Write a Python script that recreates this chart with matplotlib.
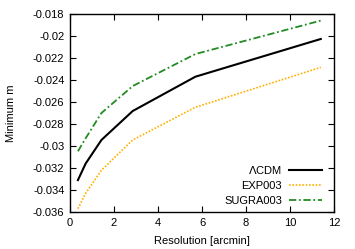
import numpy as np
import matplotlib
matplotlib.use('Agg')
import matplotlib.pyplot as plt
from matplotlib.ticker import FuncFormatter

plt.rcParams['font.family'] = ['Liberation Sans', 'DejaVu Sans']
plt.rcParams['font.size'] = 8

# resolution in arcmin
res = [0.36, 0.71, 1.43, 2.85, 5.7, 11.4]
lcdm = [-0.0331, -0.0316, -0.02945, -0.02682, -0.0237, -0.02027]
exp003 = [-0.0357, -0.0343, -0.0322, -0.02945, -0.02648, -0.02285]
sugra003 = [-0.03048, -0.0293, -0.0270, -0.02455, -0.02164, -0.0186]

fig = plt.figure(figsize=(3.55, 2.49), dpi=100)
ax = fig.add_axes([70/355, 1-212/249, 264/355, 198/249])

ax.plot(res, lcdm, color='black', lw=1.5, label=r'$\Lambda$CDM')
ax.plot(res, exp003, color='#ffb000', lw=1.2, ls=(0, (1, 1)), label='EXP003')
ax.plot(res, sugra003, color='#228b22', lw=1.3, ls=(0, (4, 1.5, 1, 1.5)), label='SUGRA003')

ax.set_xlim(0, 12)
ax.set_ylim(-0.036, -0.018)
ax.set_xticks(np.arange(0, 13, 2))
ax.set_yticks(np.arange(-0.036, -0.0179, 0.002))
ax.yaxis.set_major_formatter(FuncFormatter(lambda v, p: '%g' % round(v, 4)))
ax.tick_params(direction='in', top=True, right=True, length=4, width=0.8, pad=4)
for s in ax.spines.values():
    s.set_linewidth(1.0)

ax.set_xlabel('Resolution [arcmin]', labelpad=6)
ax.set_ylabel('Minimum m', labelpad=12)

ax.legend(loc='lower right', bbox_to_anchor=(0.955, 0.03), frameon=False,
          markerfirst=False, handlelength=3, handletextpad=0.6,
          labelspacing=0.45, borderaxespad=0, borderpad=0)

fig.savefig('out.png', dpi=100)
